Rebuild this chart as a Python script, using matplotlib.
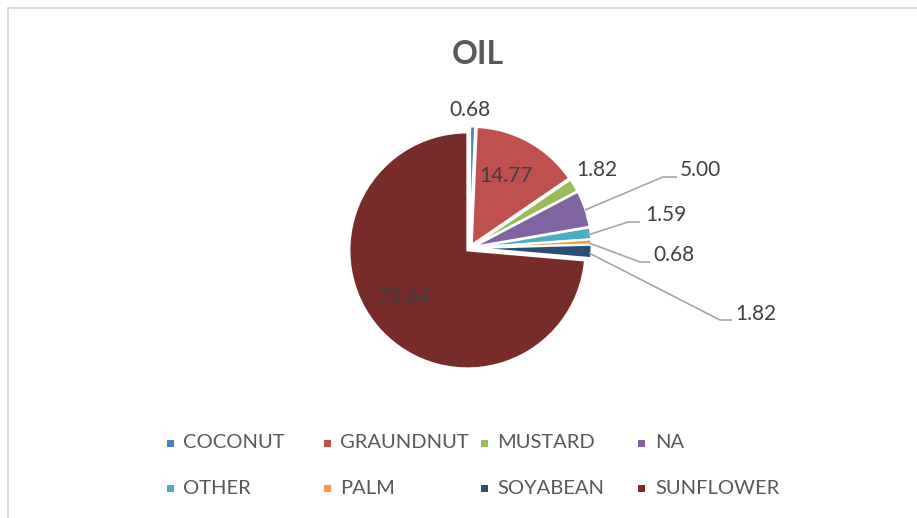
import matplotlib
matplotlib.use("Agg")
import matplotlib.pyplot as plt
from matplotlib.patches import Rectangle
from matplotlib.lines import Line2D

# ---- data ----
categories = ["COCONUT", "GRAUNDNUT", "MUSTARD", "NA", "OTHER", "PALM", "SOYABEAN", "SUNFLOWER"]
values = [0.68, 14.77, 1.82, 5.00, 1.59, 0.68, 1.82, 73.64]
value_labels = ["0.68", "14.77", "1.82", "5.00", "1.59", "0.68", "1.82", "73.64"]
colors = ["#4F81BD", "#C0504D", "#9BBB59", "#8064A2", "#4BACC6", "#F79646", "#2C4D75", "#772C2A"]
title = "OIL"

FONT = ["Lato", "DejaVu Sans"]
W, H = 917, 518
fig = plt.figure(figsize=(W / 100, H / 100), dpi=100)
fig.patch.set_facecolor("white")

# chart border (left and top only visible)
fig.add_artist(Line2D([8 / W, 8 / W], [0, 1 - 8 / H], transform=fig.transFigure, color="#D9D9D9", lw=1.3))
fig.add_artist(Line2D([8 / W, 1], [1 - 8 / H, 1 - 8 / H], transform=fig.transFigure, color="#D9D9D9", lw=1.3))

# pie axes: centre (470,248) px, radius 118 px
cx, cy, R = 470, 248, 118
half = 150
ax = fig.add_axes([(cx - half) / W, (H - cy - half) / H, 2 * half / W, 2 * half / H])
lim = half / R

ax.pie(values, colors=colors, startangle=90, counterclock=False, radius=1.0,
       explode=[0.03] * len(values), wedgeprops=dict(edgecolor="white", linewidth=1.5),
       frame=True)
ax.set_xlim(-lim, lim)
ax.set_ylim(-lim, lim)
ax.set_aspect("equal")
ax.axis("off")

def px(x, y):
    return ((x - cx) / R, (cy - y) / R)

lab_color = "#404040"
fs_val = 15

# labels without leader lines (centred)
centered = {0: (470, 110), 1: (506, 176), 2: (597, 170), 7: (405, 297)}
for i, (x, y) in centered.items():
    ax.text(*px(x, y), value_labels[i], ha="center", va="center", fontsize=fs_val,
            color=lab_color, family=FONT, clip_on=False)

# labels with leader lines: (start, elbow, end, text-left-centre)
leaders = {
    3: [(585, 210), (663, 177), (677, 177), (680, 170)],
    4: [(588, 235), (628, 222), (640, 222), (645, 215)],
    5: [(589, 243), (640, 262), (650, 262), (653, 255)],
    6: [(589, 253), (720, 320), (732, 320), (735, 314)],
}
for i, (a, b, c, t) in leaders.items():
    xs, ys = zip(*[px(*p) for p in (a, b, c)])
    ax.plot(xs, ys, color="#A6A6A6", lw=1.2, clip_on=False, solid_capstyle="butt")
    ax.text(*px(*t), value_labels[i], ha="left", va="center", fontsize=fs_val,
            color=lab_color, family=FONT, clip_on=False)

# title
fig.text(477.5 / W, 1 - 54 / H, title, ha="center", va="center", fontsize=23,
         fontweight="bold", color="#595959", family=FONT)

# legend (manual, Excel-like uniform columns)
col_x0, col_dx = 170, 157.3
row_y = [443, 488]
msz = 7
for i, (cat, col) in enumerate(zip(categories, colors)):
    r, c = divmod(i, 4)
    mx = col_x0 + c * col_dx
    my = row_y[r]
    fig.add_artist(Rectangle(((mx - msz / 2) / W, 1 - (my + msz / 2) / H), msz / W, msz / H,
                             transform=fig.transFigure, facecolor=col, edgecolor="none"))
    fig.text((mx + 13) / W, 1 - my / H, cat, ha="left", va="center", fontsize=14.5,
             color="#595959", family=FONT)

fig.savefig("out.png", dpi=100, facecolor="white")
